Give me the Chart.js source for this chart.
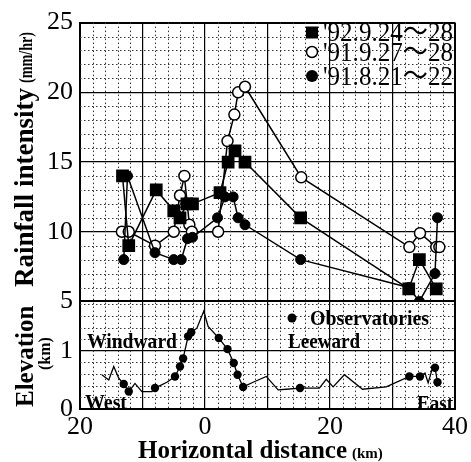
<!DOCTYPE html>
<html>
<head>
<meta charset="utf-8">
<script src="https://cdn.jsdelivr.net/npm/chart.js@4.4.1/dist/chart.umd.min.js"></script>
<style>
  html, body { margin: 0; padding: 0; background: #fff; }
  #wrap { width: 471px; height: 462px; }
</style>
</head>
<body>
<div id="wrap"><canvas id="c" width="471" height="462"></canvas></div>
<script>
// horizontal distance (km, west is negative) / rainfall intensity (mm/hr)
const sq92X = [-13.2, -12.2, -7.8, -5.0, -4.0, -2.9, -2.0, 2.4, 3.7, 4.8, 6.4, 15.3, 32.6, 34.3, 37.0];
const sq92Y = [14.0, 9.0, 13.0, 11.5, 11.0, 12.0, 12.0, 12.8, 15.0, 15.8, 15.0, 11.0, 5.9, 8.0, 5.9];

const op91X = [-13.3, -12.2, -8.0, -5.0, -4.0, -3.3, -2.5, -2.1, 2.1, 3.6, 4.7, 5.3, 6.4, 15.4, 32.7, 34.4, 37.0, 37.5];
const op91Y = [10.0, 10.0, 9.0, 10.0, 12.6, 14.0, 10.5, 10.0, 10.0, 16.5, 18.4, 20.0, 20.4, 13.9, 8.9, 9.9, 8.9, 8.9];

const fc91X = [-13.0, -12.4, -8.0, -5.0, -3.8, -2.8, -2.0, 2.0, 3.2, 4.5, 5.3, 6.4, 15.3, 32.6, 34.3, 36.8, 37.2];
const fc91Y = [8.0, 14.0, 8.5, 8.0, 8.0, 9.5, 9.6, 11.0, 12.5, 12.5, 11.0, 10.5, 8.0, 6.0, 5.0, 7.0, 11.0];

// terrain profile (km) and observatories
const terrX = [-16.5, -15.4, -14.6, -13.8, -13.0, -12.2, -11.2, -10.1, -8.5, -8.0, -6.1, -4.8, -4.0, -3.5, -2.7, -2.2, -1.3, -0.2, 0.5, 2.2, 3.6, 4.6, 5.2, 6.1, 7.7, 9.8, 11.7, 13.0, 15.2, 18.3, 19.4, 20.5, 22.3, 25.2, 29.0, 32.7, 34.4, 35.2, 35.7, 36.3, 36.8, 37.2];
const terrE = [0.59, 0.50, 0.73, 0.53, 0.43, 0.30, 0.44, 0.30, 0.30, 0.36, 0.46, 0.56, 0.73, 0.87, 1.25, 1.32, 1.39, 1.68, 1.42, 1.22, 1.03, 0.79, 0.59, 0.38, 0.46, 0.56, 0.33, 0.34, 0.36, 0.36, 0.51, 0.38, 0.59, 0.34, 0.38, 0.56, 0.56, 0.62, 0.45, 0.67, 0.71, 0.46];

const obsX = [-13.0, -12.2, -8.0, -4.8, -4.0, -3.5, -2.7, -2.2, 2.2, 3.6, 4.6, 5.2, 6.1, 15.2, 32.7, 34.4, 36.8, 37.2];
const obsE = [0.43, 0.30, 0.36, 0.56, 0.73, 0.87, 1.25, 1.32, 1.22, 1.03, 0.79, 0.59, 0.38, 0.36, 0.56, 0.56, 0.71, 0.46];

const xLabels = [-20, 0, 20, 40];
const seriesNames = ["'92.9.24\u301C28", "'91.9.27\u301C28", "'91.8.21\u301C22"];

const SERIF = '"Liberation Serif", "Noto Sans CJK JP", serif';

function pts(xs, ys) {
  return xs.map((x, i) => ({ x: x, y: ys[i] }));
}

// draw text, optionally squeezed to a target width (rotated = reads bottom to top)
function put(ctx, txt, x, y, font, targetW, rotated) {
  ctx.save();
  ctx.translate(x, y);
  if (rotated) ctx.rotate(-Math.PI / 2);
  ctx.font = font;
  const w = ctx.measureText(txt).width;
  if (targetW) ctx.scale(targetW / w, 1);
  ctx.fillText(txt, 0, 0);
  ctx.restore();
  return w;
}

// dotted minor grid, drawn through the scales
const minorGrid = {
  id: 'minorGrid',
  beforeDatasetsDraw(chart) {
    const { ctx, scales } = chart;
    const x = scales.x, y = scales.y, yE = scales.yE;
    const area = chart.chartArea;
    ctx.save();
    ctx.strokeStyle = '#333';
    ctx.lineWidth = 1;
    ctx.setLineDash([1.5, 2.5]);
    ctx.beginPath();
    for (let v = -18; v < 40; v += 2) {
      if (v % 10 === 0) continue;
      const px = Math.round(x.getPixelForValue(v)) + 0.5;
      ctx.moveTo(px, area.top);
      ctx.lineTo(px, area.bottom);
    }
    for (let v = 6; v < 25; v++) {
      if (v % 5 === 0) continue;
      const py = Math.round(y.getPixelForValue(v)) + 0.5;
      ctx.moveTo(area.left, py);
      ctx.lineTo(area.right, py);
    }
    for (let k = 1; k <= 9; k++) {
      if (k === 5) continue;
      const py = Math.round(yE.getPixelForValue(k * 0.2)) + 0.5;
      ctx.moveTo(area.left, py);
      ctx.lineTo(area.right, py);
    }
    ctx.stroke();
    ctx.restore();
  }
};

const texts = {
  id: 'texts',
  afterDraw(chart) {
    const ctx = chart.ctx;
    ctx.save();
    ctx.fillStyle = '#000';
    ctx.textBaseline = 'alphabetic';
    ctx.textAlign = 'left';

    put(ctx, 'Rainfall intensity', 33, 287, 'bold 27px ' + SERIF, 199, true);
    put(ctx, '(mm/hr)', 32, 83, 'bold 18px ' + SERIF, 51, true);
    put(ctx, 'Elevation', 33, 407, 'bold 25px ' + SERIF, 0, true);
    put(ctx, '(km)', 50, 370, 'bold 16px ' + SERIF, 0, true);
    const w = put(ctx, 'Horizontal distance', 138, 458, 'bold 25px ' + SERIF, 0, false);
    put(ctx, '(km)', 138 + w + 5, 458, 'bold 15px ' + SERIF, 0, false);

    put(ctx, 'Windward', 87, 348, 'bold 20px ' + SERIF, 90, false);
    put(ctx, 'West', 85, 409, 'bold 20px ' + SERIF, 42, false);
    put(ctx, 'Leeward', 288, 348, 'bold 20px ' + SERIF, 72, false);
    put(ctx, 'Observatories', 310, 325, 'bold 20px ' + SERIF, 119, false);
    put(ctx, 'East', 417, 410, 'bold 20px ' + SERIF, 36, false);
    ctx.beginPath();
    ctx.arc(292, 318, 4.5, 0, Math.PI * 2);
    ctx.fill();

    // legend
    const rows = [32.5, 52, 76];
    ctx.lineWidth = 1.5;
    ctx.strokeStyle = '#000';
    ctx.fillRect(306, rows[0] - 6, 12, 12);
    ctx.beginPath();
    ctx.arc(312, rows[1], 5.5, 0, Math.PI * 2);
    ctx.fillStyle = '#fff';
    ctx.fill();
    ctx.stroke();
    ctx.fillStyle = '#000';
    ctx.beginPath();
    ctx.arc(312, rows[2], 6, 0, Math.PI * 2);
    ctx.fill();
    const base = [41, 61, 85];
    seriesNames.forEach((s, i) => put(ctx, s, 323, base[i], '27px ' + SERIF, 130, false));
    ctx.restore();
  }
};

const tickFont = { family: SERIF, size: 26 };

new Chart(document.getElementById('c'), {
  type: 'line',
  data: {
    datasets: [
      {
        label: seriesNames[0], yAxisID: 'y', data: pts(sq92X, sq92Y),
        borderColor: '#000', borderWidth: 1.5, pointStyle: 'rect', pointRadius: 9,
        pointBackgroundColor: '#000', pointBorderColor: '#000', pointBorderWidth: 0
      },
      {
        label: seriesNames[2], yAxisID: 'y', data: pts(fc91X, fc91Y),
        borderColor: '#000', borderWidth: 1.5, pointStyle: 'circle', pointRadius: 5,
        pointBackgroundColor: '#000', pointBorderColor: '#000', pointBorderWidth: 1
      },
      {
        label: seriesNames[1], yAxisID: 'y', data: pts(op91X, op91Y),
        borderColor: '#000', borderWidth: 1.5, pointStyle: 'circle', pointRadius: 5.5,
        pointBackgroundColor: '#fff', pointBorderColor: '#000', pointBorderWidth: 1.5
      },
      {
        label: 'Observatories', yAxisID: 'yE', data: pts(obsX, obsE), showLine: false,
        pointRadius: 4.2, pointBackgroundColor: '#000', pointBorderColor: '#000', pointBorderWidth: 0
      },
      {
        label: 'Terrain', yAxisID: 'yE', data: pts(terrX, terrE),
        borderColor: '#000', borderWidth: 1.3, pointRadius: 0
      }
    ]
  },
  options: {
    responsive: false,
    animation: false,
    layout: { padding: { left: 0, right: 14, top: 21, bottom: 0 } },
    plugins: { legend: { display: false }, tooltip: { enabled: false } },
    scales: {
      x: {
        type: 'linear', min: -20, max: 40,
        ticks: {
          stepSize: 10, autoSkip: false, maxRotation: 0, padding: 3,
          color: '#000', font: tickFont,
          callback: v => xLabels.includes(v) ? String(Math.abs(v)) : ''
        },
        grid: {
          color: '#000', drawTicks: false,
          lineWidth: c => (c.tick && (c.tick.value === -20 || c.tick.value === 40)) ? 2 : 1.2
        },
        border: { color: '#000', width: 2 },
        afterFit: s => { s.height = 53; }
      },
      // listed before y so that the layout puts it underneath
      yE: {
        type: 'linear', position: 'left', stack: 'v', stackWeight: 108,
        min: 0, max: 1.85,
        ticks: {
          stepSize: 1, includeBounds: false, autoSkip: false, padding: 7,
          color: '#000', font: tickFont
        },
        grid: {
          color: '#000', drawTicks: false,
          lineWidth: c => (c.tick && c.tick.value === 0) ? 2 : 1.2
        },
        border: { color: '#000', width: 2 },
        afterFit: s => { s.width = 80; }
      },
      y: {
        type: 'linear', position: 'left', stack: 'v', stackWeight: 280,
        min: 5, max: 25,
        ticks: { stepSize: 5, padding: 7, color: '#000', font: tickFont },
        grid: {
          color: '#000', drawTicks: false,
          lineWidth: c => (c.tick && (c.tick.value === 5 || c.tick.value === 25)) ? 2 : 1.2
        },
        border: { color: '#000', width: 2 },
        afterFit: s => { s.width = 80; }
      }
    }
  },
  plugins: [minorGrid, texts]
});
</script>
</body>
</html>
